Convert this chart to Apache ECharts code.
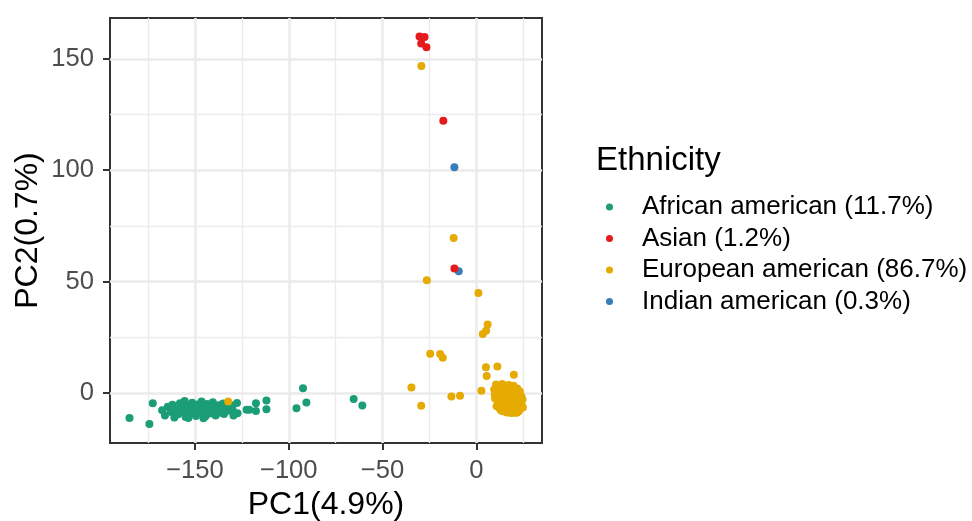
<!DOCTYPE html>
<html>
<head>
<meta charset="utf-8">
<script src="https://cdn.jsdelivr.net/npm/echarts@6/dist/echarts.min.js"></script>
<style>
  html, body { margin: 0; padding: 0; background: #ffffff; }
  #chart { width: 972px; height: 521px; }
</style>
</head>
<body>
<div id="chart"></div>
<script>
// PCA scores by self-reported ethnicity
const groupNames = [
  'African american (11.7%)',
  'Asian (1.2%)',
  'European american (86.7%)',
  'Indian american (0.3%)'
];
const groupColors = ['#1B9E77', '#E41A1C', '#E6AB02', '#377EB8'];

const africanAmerican = [
  [-184.9, -11.3], [-174.3, -14.0], [-172.5, -4.6],
  [-167.5, -7.8], [-166.0, -10.2], [-164.5, -6.2], [-163.0, -8.5], [-162.0, -5.3],
  [-161.0, -11.0], [-160.0, -7.4], [-159.0, -9.6], [-158.0, -4.6], [-157.5, -6.8],
  [-156.0, -8.8], [-155.5, -3.6], [-155.0, -10.8], [-154.0, -5.8], [-153.0, -7.6],
  [-152.5, -9.3], [-151.5, -4.4], [-151.0, -6.5], [-150.0, -8.2], [-149.5, -10.4],
  [-148.5, -5.2], [-148.0, -7.1], [-147.0, -9.0], [-146.5, -3.9], [-146.0, -6.0],
  [-145.0, -8.0], [-144.5, -10.6], [-143.5, -5.0], [-143.0, -7.4], [-142.0, -9.3],
  [-141.0, -6.3], [-140.5, -4.2], [-140.0, -8.5], [-139.0, -10.2], [-138.5, -6.8],
  [-137.5, -5.5], [-137.0, -8.9], [-136.0, -7.3], [-135.0, -4.8], [-134.5, -9.5],
  [-133.5, -6.0], [-132.5, -8.0], [-131.0, -5.4], [-130.0, -7.2], [-129.5, -10.1],
  [-158.5, -7.9], [-153.5, -11.3], [-145.5, -11.4], [-161.5, -9.0], [-150.5, -5.9],
  [-127.6, -4.5], [-127.3, -9.1], [-122.5, -7.6], [-121.1, -7.6], [-117.5, -4.6],
  [-117.5, -8.1], [-111.9, -3.4], [-111.9, -7.3],
  [-95.9, -6.9], [-92.4, 2.1], [-90.6, -4.3], [-65.4, -2.8], [-60.8, -5.7]
];

const asian = [
  [-30.3, 160.0], [-27.6, 159.8], [-29.4, 156.8], [-26.6, 155.2],
  [-17.6, 122.2], [-11.7, 55.8]
];

const europeanAmerican = [
  [-132.3, -3.9], [-29.3, 146.8], [-12.1, 69.5], [-26.4, 50.6], [1.1, 44.8],
  [6.0, 30.7], [5.2, 27.9], [3.4, 26.4], [-24.6, 17.6], [-19.3, 17.5], [-17.9, 15.8],
  [-34.6, 2.4], [-29.4, -5.8], [-13.3, -1.6], [-8.7, -1.3], [2.7, 1.0],
  [5.1, 11.5], [5.5, 7.6], [11.2, 11.8], [20.0, 8.1],
  [9.5, 1.5], [10.5, 3.8], [11.2, -0.5], [12.0, 2.5], [10.0, -2.5], [11.5, -4.0],
  [12.8, 0.8], [13.5, -2.0], [13.0, -5.5], [14.0, 3.0], [14.5, -0.2], [15.0, -3.5],
  [15.5, -6.5], [16.0, 1.5], [16.5, -1.8], [17.0, -4.8], [17.5, -7.8], [18.0, 2.8],
  [18.2, 0.0], [18.8, -2.8], [19.0, -5.8], [19.5, -8.3], [20.0, 1.2], [20.5, -1.2],
  [21.0, -4.0], [21.2, -6.8], [22.0, -0.3], [22.3, -2.6], [22.8, -5.2], [23.0, -7.6],
  [23.5, -3.6], [24.0, -1.5], [24.3, -5.8], [24.6, -3.0], [14.2, -8.2], [16.3, -8.8],
  [18.5, -9.0], [21.5, -8.9], [12.4, -7.0], [10.8, -6.0], [13.8, 4.0], [17.2, 3.5],
  [19.8, 3.2], [21.8, 2.0], [23.2, 0.6], [15.2, 0.4], [17.8, -0.9], [19.4, -3.4],
  [20.8, -6.1], [16.8, -6.0], [14.6, -4.6], [12.2, -2.6], [15.8, -2.4], [18.6, -6.9],
  [22.6, -8.3], [24.8, -6.6], [20.3, -8.9], [13.2, -7.9], [11.8, 1.2], [9.8, -0.9]
];

const indianAmerican = [
  [-11.7, 101.3], [-9.4, 54.6]
];

// axis ranges and tick positions
const xRange = [-195.3, 35.0];
const yRange = [-22.5, 168.3];
const xMajorTicks = [-150, -100, -50, 0];
const xMinorTicks = [-175, -125, -75, -25, 25];
const yMajorTicks = [0, 50, 100, 150];
const yMinorTicks = [25, 75, 125];

const FONT = '"Liberation Sans", Arial, Helvetica, sans-serif';
const GRID_COLOR = '#EBEBEB';

function gridLines() {
  const data = [];
  xMinorTicks.forEach(v => data.push({ xAxis: v, lineStyle: { width: 1.3 } }));
  yMinorTicks.forEach(v => data.push({ yAxis: v, lineStyle: { width: 1.3 } }));
  xMajorTicks.forEach(v => data.push({ xAxis: v, lineStyle: { width: 2.6 } }));
  yMajorTicks.forEach(v => data.push({ yAxis: v, lineStyle: { width: 2.6 } }));
  return data;
}

function pointSeries(name, color, data) {
  return {
    name: name,
    type: 'scatter',
    data: data,
    symbol: 'circle',
    symbolSize: 8,
    itemStyle: { color: color, opacity: 1 },
    emphasis: { disabled: true },
    z: 3
  };
}

const chart = echarts.init(document.getElementById('chart'), null, { renderer: 'canvas' });

chart.setOption({
  animation: false,
  backgroundColor: '#ffffff',
  title: {
    text: 'Ethnicity',
    left: 596,
    top: 144,
    padding: 0,
    textStyle: { fontFamily: FONT, fontSize: 33, fontWeight: 'normal', color: '#000000' }
  },
  legend: {
    orient: 'vertical',
    left: 606,
    top: 194,
    padding: 0,
    itemWidth: 7,
    itemHeight: 7,
    itemGap: 5.5,
    icon: 'circle',
    selectedMode: false,
    data: groupNames,
    textStyle: {
      fontFamily: FONT, fontSize: 26, color: '#000000',
      lineHeight: 26, padding: [0, 0, 0, 24]
    }
  },
  grid: {
    left: 110, right: 430, top: 18, bottom: 78,
    outerBoundsMode: 'none',
    containLabel: false,
    show: true, backgroundColor: '#ffffff',
    borderColor: '#333333', borderWidth: 2
  },
  xAxis: {
    type: 'value',
    min: xRange[0], max: xRange[1],
    name: 'PC1(4.9%)',
    nameLocation: 'middle',
    nameGap: 43,
    nameTextStyle: { fontFamily: FONT, fontSize: 32, color: '#000000' },
    axisLine: { show: false, onZero: false },
    axisTick: { show: true, customValues: xMajorTicks, length: 7, lineStyle: { color: '#333333', width: 2 } },
    axisLabel: {
      customValues: xMajorTicks,
      fontFamily: FONT, fontSize: 25.6, color: '#4D4D4D', margin: 15,
      formatter: v => (v < 0 ? '\u2212' + Math.abs(v) : String(v))
    },
    splitLine: { show: false }
  },
  yAxis: {
    type: 'value',
    min: yRange[0], max: yRange[1],
    name: 'PC2(0.7%)',
    nameLocation: 'middle',
    nameGap: 66,
    nameTextStyle: { fontFamily: FONT, fontSize: 32, color: '#000000' },
    axisLine: { show: false, onZero: false },
    axisTick: { show: true, customValues: yMajorTicks, length: 7, lineStyle: { color: '#333333', width: 2 } },
    axisLabel: {
      customValues: yMajorTicks,
      fontFamily: FONT, fontSize: 25.6, color: '#4D4D4D', margin: 16
    },
    splitLine: { show: false }
  },
  series: [
    {
      name: 'gridlines',
      type: 'scatter',
      data: [],
      silent: true,
      z: 1,
      markLine: {
        silent: true,
        z: 1,
        symbol: ['none', 'none'],
        label: { show: false },
        animation: false,
        lineStyle: { color: GRID_COLOR, type: 'solid' },
        emphasis: { disabled: true },
        data: gridLines()
      }
    },
    pointSeries(groupNames[0], groupColors[0], africanAmerican),
    pointSeries(groupNames[3], groupColors[3], indianAmerican),
    pointSeries(groupNames[2], groupColors[2], europeanAmerican),
    pointSeries(groupNames[1], groupColors[1], asian)
  ]
});
</script>
</body>
</html>
